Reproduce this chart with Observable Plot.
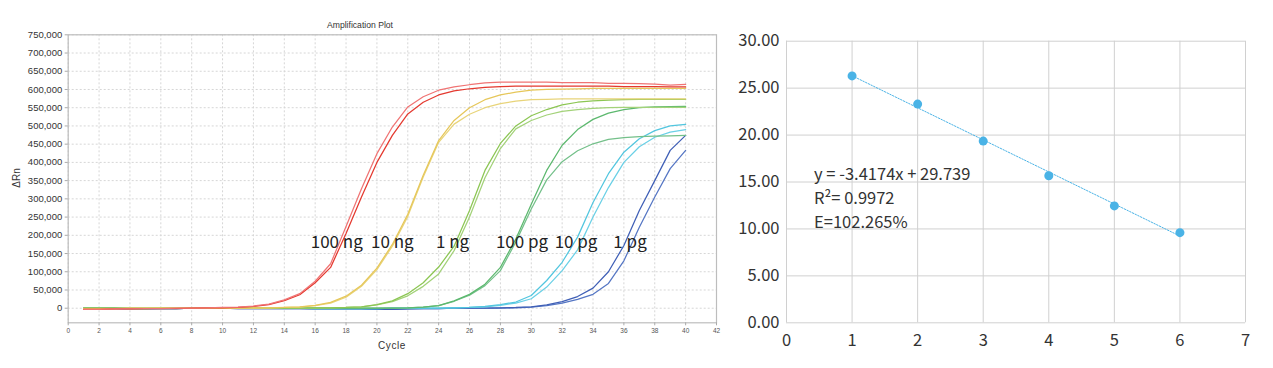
<!DOCTYPE html>
<html>
<head>
<meta charset="utf-8">
<script src="https://cdn.jsdelivr.net/npm/d3@7"></script>
<script src="https://cdn.jsdelivr.net/npm/@observablehq/plot@0.6"></script>
<style>
  html, body { margin: 0; padding: 0; background: #fff; }
  #wrap { position: relative; width: 1273px; height: 368px; overflow: hidden; }
  #left { position: absolute; left: 0; top: 0; }
  #right { position: absolute; left: 730px; top: 0; }
  .lbl { position: absolute; font-family: "Liberation Sans", Arial, sans-serif; color: #333; white-space: nowrap; }
</style>
</head>
<body>
<div id="wrap">
  <div id="left"></div>
  <div id="right"></div>
  <div class="lbl" style="left:360px; top:25px; transform: translate(-50%,-50%); font-size:8.6px;">Amplification Plot</div>
  <div class="lbl" style="left:16px; top:178px; transform: translate(-50%,-50%) rotate(-90deg); font-size:10px;">ΔRn</div>
  <div class="lbl" style="left:392px; top:345px; transform: translate(-50%,-50%); font-size:10px; letter-spacing:0.6px;">Cycle</div>
</div>
<script>
// ---------- Left panel: amplification curves (ΔRn, thousands) ----------
const cycles = [1,2,3,4,5,6,7,8,9,10,11,12,13,14,15,16,17,18,19,20,21,22,23,24,25,26,27,28,29,30,31,32,33,34,35,36,37,38,39,40];

const seriesNames = ["100 ng a","100 ng b","10 ng a","10 ng b","1 ng a","1 ng b","100 pg a","100 pg b","10 pg a","10 pg b","1 pg a","1 pg b"];
const seriesColors = ["#f07474","#e4392f","#e6c75a","#e8d47a","#8cc653","#a3d279","#5cb86e","#74c08a","#52c6df","#6ad0e6","#3f5fb6","#5576c4"];

const ng100a = [-3,-3,-2,-2,-1,-1,0,0,1,2,3,6,11,23,40,74,122,224,328,424,497,552,580,598,607,613,618,620,620,620,620,619,619,619,617,617,616,615,612,614];
const ng100b = [-3,-3,-2,-2,-1,-1,-1,0,1,1,2,5,10,21,37,70,112,205,305,400,474,533,565,585,596,602,606,608,609,609,609,609,609,609,609,608,608,608,607,607];
const ng10a  = [-1,-1,-1,0,0,0,0,0,0,0,0,1,1,2,4,8,16,33,63,110,175,258,365,460,515,550,572,585,593,598,600,601,602,603,603,603,603,603,603,603];
const ng10b  = [-1,-1,-1,0,0,0,0,0,0,0,0,0,1,2,3,7,14,30,60,106,170,252,360,455,505,532,550,561,568,572,573,574,574,574,574,574,574,574,574,574];
const ng1a   = [0,0,0,-1,-1,0,0,0,0,0,0,0,0,0,0,1,1,2,4,10,20,40,70,113,170,268,378,452,500,528,545,558,565,569,571,572,573,573,573,573];
const ng1b   = [0,0,0,-1,-1,0,0,0,0,0,0,0,0,0,0,0,1,2,4,9,18,34,60,94,158,250,358,438,492,515,530,540,545,548,550,551,551,551,551,551];
const pg100a = [0,0,0,0,0,0,0,0,0,0,0,0,0,0,0,0,0,0,0,0,0,1,3,7,20,38,66,112,190,285,378,447,490,518,535,545,550,552,553,554];
const pg100b = [0,0,0,0,0,0,0,0,0,0,0,0,0,0,0,0,0,0,0,0,0,1,3,7,19,36,62,103,182,272,352,402,432,451,463,468,471,472,473,474];
const pg10a  = [0,0,0,-1,-1,-1,-1,0,0,0,0,0,0,0,0,-1,-1,-1,-1,-1,0,0,0,0,1,2,5,10,17,35,76,126,195,290,369,428,465,487,500,504];
const pg10b  = [0,0,0,-1,-1,-1,-1,0,0,0,0,0,0,0,0,-1,-1,-1,-1,-1,0,0,0,0,1,2,4,8,14,26,58,103,160,250,331,400,443,469,483,490];
const pg1a   = [-1,-1,-1,-2,-2,-1,-1,0,0,0,-1,-1,-1,-1,-1,-2,-2,-2,-2,-3,-3,-2,-1,-1,0,0,0,1,2,4,9,18,32,55,100,172,268,350,433,474];
const pg1b   = [-1,-1,-1,-2,-2,-1,-1,0,0,0,-1,-1,-1,-1,-1,-2,-2,-2,-2,-3,-3,-2,-1,-1,0,0,0,0,1,3,7,14,24,38,68,130,222,305,383,433];
const seriesValues = [ng100a, ng100b, ng10a, ng10b, ng1a, ng1b, pg100a, pg100b, pg10a, pg10b, pg1a, pg1b];

const xTicksLeft = [0,2,4,6,8,10,12,14,16,18,20,22,24,26,28,30,32,34,36,38,40,42];
const yTicksLeft = [0,50000,100000,150000,200000,250000,300000,350000,400000,450000,500000,550000,600000,650000,700000,750000];

const labelText  = ["100 ng","10 ng","1 ng","100 pg","10 pg","1 pg"];
const labelCycle = [17.4, 21.0, 24.9, 29.4, 32.9, 36.4];
const labelValue = [180000,180000,180000,180000,180000,180000];

// ---------- Right panel: standard curve ----------
const stdX = [1,2,3,4,5,6];
const stdY = [26.3, 23.3, 19.36, 15.66, 12.45, 9.6];
const trendX = [1, 6];
const trendY = [26.32, 9.24];
const xTicksRight = [0,1,2,3,4,5,6,7];
const yTicksRight = [0,5,10,15,20,25,30];
const eqText = ["y = -3.4174x + 29.739", "R\u00B2= 0.9972", "E=102.265%"];
const eqX = [0.42, 0.42, 0.42];
const eqY = [15.8, 13.25, 10.7];

// ---------- build tables (drawn blue first so red sits on top, as in the original) ----------
const curves = [];
for (let i = seriesNames.length - 1; i >= 0; i--) {
  cycles.forEach((c, j) => curves.push({series: seriesNames[i], cycle: c, value: seriesValues[i][j] * 1000}));
}
const labels = labelText.map((t, i) => ({text: t, cycle: labelCycle[i], value: labelValue[i]}));
const stdPts = stdX.map((x, i) => ({x, y: stdY[i]}));
const trend = trendX.map((x, i) => ({x, y: trendY[i]}));
const eq = eqText.map((t, i) => ({text: t, x: eqX[i], y: eqY[i]}));

const left = Plot.plot({
  width: 730, height: 368,
  marginLeft: 67.7, marginRight: 14, marginTop: 34.3, marginBottom: 45.7,
  style: {fontFamily: "'Liberation Sans', Arial, sans-serif", background: "#fff"},
  x: {domain: [0, 42], label: null},
  y: {domain: [-40000, 750000], label: null},
  color: {domain: seriesNames, range: seriesColors},
  marks: [
    Plot.gridX(xTicksLeft, {stroke: "#d6d6d6", strokeOpacity: 1, strokeDasharray: "2,2"}),
    Plot.gridY(yTicksLeft, {stroke: "#d6d6d6", strokeOpacity: 1, strokeDasharray: "2,2"}),
    Plot.frame({stroke: "#bdbdbd", strokeWidth: 1.2}),
    Plot.axisX({ticks: xTicksLeft, tickFormat: d3.format("d"), tickSize: 3, tickPadding: 3, fontSize: 6.5, stroke: "#aaa", fill: "#555", label: null}),
    Plot.axisY({ticks: yTicksLeft, tickFormat: d3.format(","), tickSize: 3, tickPadding: 3, fontSize: 9.5, stroke: "#aaa", fill: "#333", label: null}),
    Plot.line(curves, {x: "cycle", y: "value", z: "series", stroke: "series", strokeWidth: 1.25}),
    Plot.text(labels, {x: "cycle", y: "value", text: "text", fontSize: 17, fill: "#222",
      fontFamily: "'Noto Sans CJK SC', 'Noto Sans', sans-serif"})
  ]
});
document.getElementById("left").appendChild(left);

const right = Plot.plot({
  width: 543, height: 368,
  marginLeft: 56, marginRight: 28, marginTop: 40.7, marginBottom: 45.7,
  style: {fontFamily: "'Noto Sans CJK SC', 'Noto Sans', sans-serif", background: "#fff"},
  x: {domain: [0, 7], label: null},
  y: {domain: [0, 30], label: null},
  marks: [
    Plot.gridX(xTicksRight, {stroke: "#d0d0d0", strokeOpacity: 1, strokeWidth: 1}),
    Plot.gridY(yTicksRight, {stroke: "#d0d0d0", strokeOpacity: 1, strokeWidth: 1}),
    Plot.axisX({ticks: xTicksRight, tickFormat: d3.format("d"), tickSize: 0, tickPadding: 11, fontSize: 16.5, fill: "#333", label: null}),
    Plot.axisY({ticks: yTicksRight, tickFormat: d => d.toFixed(2), tickSize: 0, tickPadding: 7, fontSize: 16.5, fill: "#333", label: null}),
    Plot.line(trend, {x: "x", y: "y", stroke: "#4ab3e6", strokeWidth: 1, strokeDasharray: "1.5,1.5"}),
    Plot.dot(stdPts, {x: "x", y: "y", r: 4.5, fill: "#4ab3e6", stroke: "none"}),
    Plot.text(eq, {x: "x", y: "y", text: "text", textAnchor: "start", fontSize: 16.5, fill: "#333"})
  ]
});
document.getElementById("right").appendChild(right);
</script>
</body>
</html>
